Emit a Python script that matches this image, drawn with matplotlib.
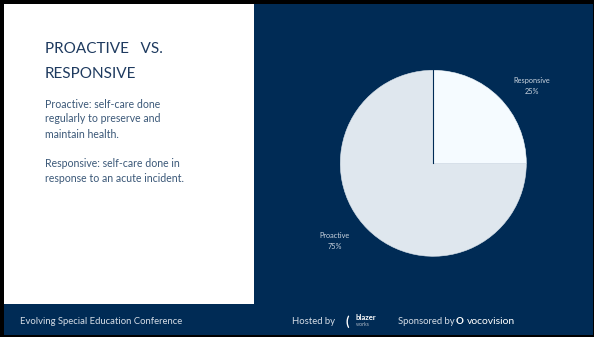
import matplotlib.pyplot as plt
from matplotlib.patches import Rectangle

# slide data
slices = ['Responsive', 'Proactive']
shares = [25, 75]
slice_colors = ['#f5fbff', '#dfe7ee']

title_lines = ['PROACTIVE   VS.', 'RESPONSIVE']
body_lines = ['Proactive: self-care done', 'regularly to preserve and', 'maintain health.', '',
              'Responsive: self-care done in', 'response to an acute incident.']

navy = '#002b55'
W, H = 594, 337

fig = plt.figure(figsize=(W / 100, H / 100), dpi=100)
fig.patch.set_facecolor('black')

def box(x0, y0, x1, y1, color):
    # rectangle in pixel coords, y measured from top
    fig.patches.append(Rectangle((x0 / W, 1 - y1 / H), (x1 - x0) / W, (y1 - y0) / H,
                                 transform=fig.transFigure, facecolor=color,
                                 linewidth=0, zorder=-5))

box(4, 4, 593, 335, navy)
box(4, 4, 254, 304, 'white')
box(4, 303.6, 254, 304.4, '#8c9aab')

def txt(x, y, s, **kw):
    fig.text(x / W, 1 - y / H, s, **kw)

font = 'Lato'
for i, line in enumerate(title_lines):
    txt(45, 49 + i * 25, line, fontsize=11, color='#1e3a5f', family=font, va='center')
for i, line in enumerate(body_lines):
    txt(45, 104 + i * 15, line, fontsize=7.6, color='#3b5878', family=font, va='center')

# footer
foot = '#d6dde6'
txt(20, 321, 'Evolving Special Education Conference', fontsize=6.8, color=foot, family=font, va='center')
txt(292, 321, 'Hosted by', fontsize=6.8, color=foot, family=font, va='center')
txt(345, 321.5, '(', fontsize=9, color='white', family=font, va='center', fontweight='bold')
txt(355, 318, 'blazer', fontsize=5.5, color='white', family=font, va='center', fontweight='bold')
txt(356, 325, 'works', fontsize=3.8, color='#aab6c4', family=font, va='center')
txt(398, 321, 'Sponsored by', fontsize=6.8, color=foot, family=font, va='center')
txt(456, 321, 'O', fontsize=7, color='white', family=font, va='center', fontweight='bold')
txt(467, 321, 'vocovision', fontsize=7.5, color='white', family=font, va='center')

# pie
cx, cy, r = 433.3, 163.3, 93
ax = fig.add_axes([(cx - r) / W, (H - cy - r) / H, 2 * r / W, 2 * r / H])
labels = [f'{n}\n{p}%' for n, p in zip(slices, shares)]
wedges, texts = ax.pie(shares, labels=labels, colors=slice_colors, startangle=90,
                       counterclock=False, labeldistance=1.34,
                       textprops=dict(fontsize=5.3, color='#c9d3de', family=font,
                                      linespacing=1.7))
for w in wedges:
    w.set_edgecolor(w.get_facecolor())
    w.set_linewidth(0.4)
for t in texts:
    t.set_horizontalalignment('center')
    x, y = t.get_position()
    t.set_position((x * 1.12, y * 0.88))
ax.plot([0, 0], [0, 1], color=navy, lw=0.8)
ax.set_xlim(-1, 1)
ax.set_ylim(-1, 1)
ax.set_axis_off()

fig.savefig('out.png', dpi=100)
